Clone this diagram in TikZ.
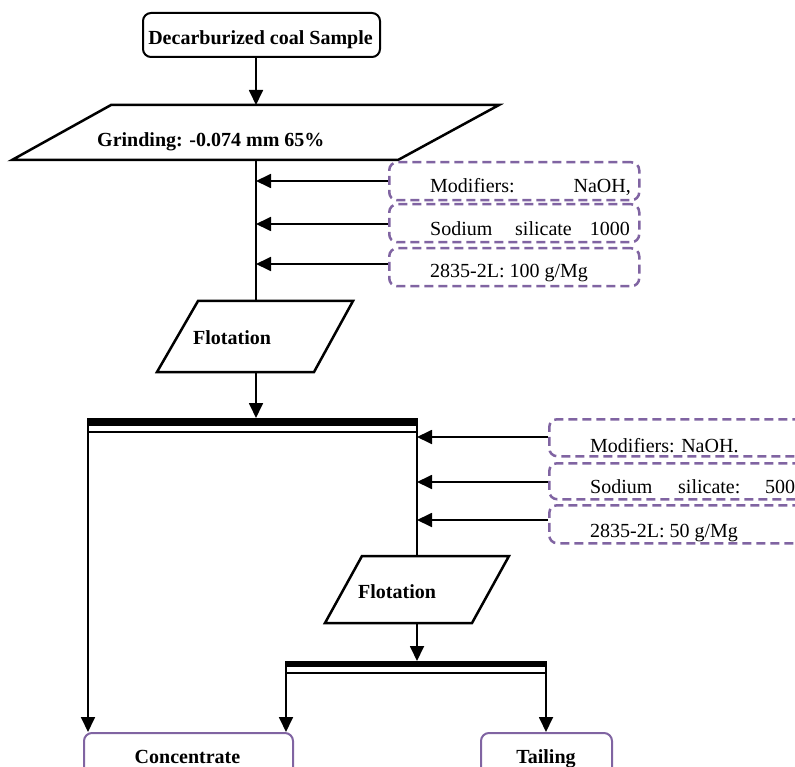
\documentclass[tikz,border=0pt]{standalone}
\usepackage{fontspec}
\setmainfont{Liberation Serif}
\usetikzlibrary{arrows.meta}
\definecolor{lav}{HTML}{8064A2}
\begin{document}
\begin{tikzpicture}[x=1pt,y=-1pt,
  arr/.style={line width=1.8pt,-{Triangle[length=15pt,width=14pt]}},
  ln/.style={line width=1.8pt},
  lbl/.style={font=\bfseries\fontsize{20}{24}\selectfont, inner sep=0pt},
  reg/.style={font=\fontsize{20}{24}\selectfont, inner sep=0pt},
  dbox/.style={draw=lav, line width=2.5pt, dash pattern=on 9pt off 5pt, rounded corners=8pt, inner sep=0pt, anchor=north west},
  obox/.style={draw=lav, line width=2pt, rounded corners=8pt, inner sep=0pt, anchor=north west},
  para/.style={draw, line width=2.5pt, line join=miter},
  barthick/.style={fill=black},
]
\useasboundingbox (0,0) rectangle (795,767);
\clip (0,0) rectangle (795,767);

% start box
\node[draw, line width=2pt, rounded corners=8pt, inner sep=0pt, minimum width=237pt, minimum height=44pt, anchor=north west] (start) at (142,12) {};
\node[lbl, anchor=base] (startt) at (260.5,45) {Decarburized coal Sample};

% grinding
\draw[para] (111,105) -- (499,105) -- (398,160) -- (12,160) -- cycle;
\coordinate (gtop) at (256,105);
\coordinate (gbot) at (256,160);
\node[lbl, anchor=base west] (grindt) at (97,147) {Grinding: -0.074 mm 65\%};
\draw[arr] (start.south -| gtop) -- (gtop);

% flotation 1
\draw[para] (198,301) -- (353,301) -- (314,372) -- (157,372) -- cycle;
\coordinate (f1top) at (256,301);
\coordinate (f1bot) at (256,372);
\node[lbl, anchor=base west] (f1t) at (193,344) {Flotation};
\draw[ln] (gbot) -- (f1top);

% reagent boxes 1
\node[dbox, minimum width=250pt, minimum height=38pt] (m1) at (388,161) {};
\node[dbox, minimum width=250pt, minimum height=38pt] (m2) at (388,203) {};
\node[dbox, minimum width=250pt, minimum height=38pt] (m3) at (388,247) {};
\node[reg, anchor=base west] (m1a) at (430,193) {Modifiers:};
\node[reg, anchor=base east] (m1b) at (631,193) {NaOH,};
\node[reg, anchor=base west] (m2a) at (430,236) {Sodium};
\node[reg, anchor=base west] (m2b) at (515,236) {silicate};
\node[reg, anchor=base east] (m2c) at (630,236) {1000};
\node[reg, anchor=base west] (m3a) at (430,278) {2835-2L: 100 g/Mg};
\draw[arr] (m1.west |- 0,181) -- (gtop |- 0,181);
\draw[arr] (m2.west |- 0,224) -- (gtop |- 0,224);
\draw[arr] (m3.west |- 0,264) -- (gtop |- 0,264);

% mixer bar 1
\fill[barthick] (87,418) rectangle (418,426);
\draw[line width=1.5pt] (88,432) -- (417,432);
\coordinate (b1l) at (88,418);
\coordinate (b1r) at (417,418);
\coordinate (b1c) at (256,418);
\draw[arr] (f1bot) -- (b1c);

% reagent boxes 2
\node[dbox, minimum width=260pt, minimum height=37pt] (n1) at (548,418) {};
\node[dbox, minimum width=260pt, minimum height=36pt] (n2) at (548,462) {};
\node[dbox, minimum width=260pt, minimum height=38pt] (n3) at (548,504) {};
\node[reg, anchor=base west] (n1a) at (590,452) {Modifiers: NaOH.};
\node[reg, anchor=base west] (n2a) at (590,493) {Sodium};
\node[reg, anchor=base west] (n2b) at (678,493) {silicate:};
\node[reg, anchor=base west] (n2c) at (765,493) {500};
\node[reg, anchor=base west] (n3a) at (590,537) {2835-2L: 50 g/Mg};
\draw[arr] (n1.west |- 0,437) -- (b1r |- 0,437);
\draw[arr] (n2.west |- 0,482) -- (b1r |- 0,482);
\draw[arr] (n3.west |- 0,520) -- (b1r |- 0,520);

% flotation 2
\draw[para] (362,556) -- (509,556) -- (472,623) -- (325,623) -- cycle;
\coordinate (f2top) at (417,556);
\coordinate (f2bot) at (417,623);
\node[lbl, anchor=base west] (f2t) at (358,598) {Flotation};
\draw[ln] (b1r) -- (f2top);

% mixer bar 2
\fill[barthick] (285,661) rectangle (547,667);
\draw[line width=1.5pt] (286,673) -- (546,673);
\coordinate (b2l) at (286,661);
\coordinate (b2r) at (546,661);
\coordinate (b2c) at (417,661);
\draw[arr] (f2bot) -- (b2c);

% outputs
\node[obox, minimum width=209pt, minimum height=50pt] (conc) at (83,732) {};
\node[lbl, anchor=base] (conct) at (187.5,763) {Concentrate};
\node[obox, minimum width=131pt, minimum height=50pt] (tail) at (480,732) {};
\node[lbl, anchor=base] (tailt) at (546,763) {Tailing};
\draw[arr] (b1l) -- (b1l |- conc.north);
\draw[arr] (b2l) -- (b2l |- conc.north);
\draw[arr] (b2r) -- (b2r |- tail.north);
\end{tikzpicture}
\end{document}
